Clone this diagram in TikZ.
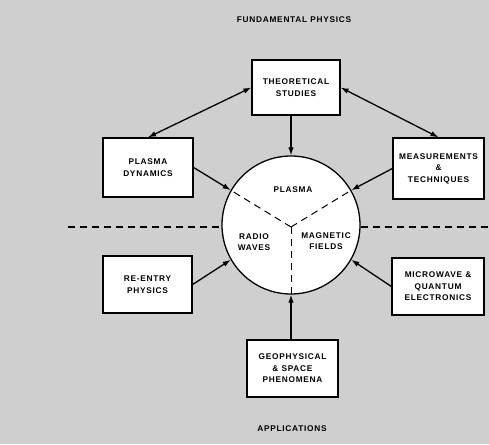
\documentclass[tikz,border=0pt]{standalone}
\usepackage{fontspec}
\newfontfamily\lblfont[LetterSpace=9]{Liberation Sans}
\usetikzlibrary{arrows.meta}
\tikzset{
  box/.style={draw=black, fill=white, line width=1.3pt, align=center, inner sep=0pt,
    font=\lblfont\bfseries\fontsize{8.3}{11.5}\selectfont},
  lbl/.style={align=center, font=\lblfont\bfseries\fontsize{8.3}{11}\selectfont},
  conn/.style={line width=1.3pt, -{Latex[length=8pt,width=5.5pt]}},
  bconn/.style={line width=1.3pt, {Latex[length=8pt,width=5.5pt]}-{Latex[length=8pt,width=5.5pt]}},
  divider/.style={line width=1.2pt, dash pattern=on 7pt off 5pt},
}
\begin{document}
\begin{tikzpicture}[x=1pt,y=-1pt]
\fill[gray!38] (0,0) rectangle (489,444);
\useasboundingbox (0,0) rectangle (489,444);

\node[lbl] (top) at (294,20) {FUNDAMENTAL PHYSICS};
\node[lbl] (bot) at (292,429) {APPLICATIONS};

\node[draw=black, fill=white, line width=1.3pt, circle, minimum size=138pt, inner sep=0pt] (circ) at (291,225) {};
\coordinate (ctr) at (291,227);
\coordinate (hl) at (68,227);
\coordinate (hr) at (489,227);

\draw[divider] (hl) -- (circ.west |- hl);
\draw[divider] (circ.east |- hr) -- (hr);
\draw[divider, line width=1pt] (ctr) -- (circ.150);
\draw[divider, line width=1pt] (ctr) -- (circ.30);
\draw[divider, line width=1pt] (ctr) -- (circ.south);

\node[lbl] (plasma) at (293,190) {PLASMA};
\node[lbl] (radio) at (254,242) {RADIO\\WAVES};
\node[lbl] (magn) at (326,241) {MAGNETIC\\FIELDS};

\node[box, minimum width=88pt, minimum height=55pt] (theo) at (296,87.5) {THEORETICAL\\STUDIES};
\node[box, minimum width=90pt, minimum height=59pt] (pdyn) at (148,167.5) {PLASMA\\DYNAMICS};
\node[box, minimum width=91pt, minimum height=61pt] (meas) at (438.5,168.5) {MEASUREMENTS\\\&\\TECHNIQUES};
\node[box, minimum width=89pt, minimum height=57pt] (reen) at (147.5,284.5) {RE-ENTRY\\PHYSICS};
\node[box, minimum width=92pt, minimum height=57pt] (micro) at (438,286.5) {MICROWAVE \&\\QUANTUM\\ELECTRONICS};
\node[box, minimum width=91pt, minimum height=57pt] (geo) at (292.5,368.5) {GEOPHYSICAL\\\& SPACE\\PHENOMENA};

\draw[bconn] (pdyn.north) -- (theo.west);
\draw[bconn] (theo.east) -- (meas.north);
\draw[conn] (circ.north |- theo.south) -- (circ.north);
\draw[conn] (pdyn.east) -- (circ.150);
\draw[conn] (meas.west) -- (circ.30);
\draw[conn] (reen.east) -- (circ.210);
\draw[conn] (micro.west) -- (circ.330);
\draw[conn] (circ.south |- geo.north) -- (circ.south);
\end{tikzpicture}
\end{document}
